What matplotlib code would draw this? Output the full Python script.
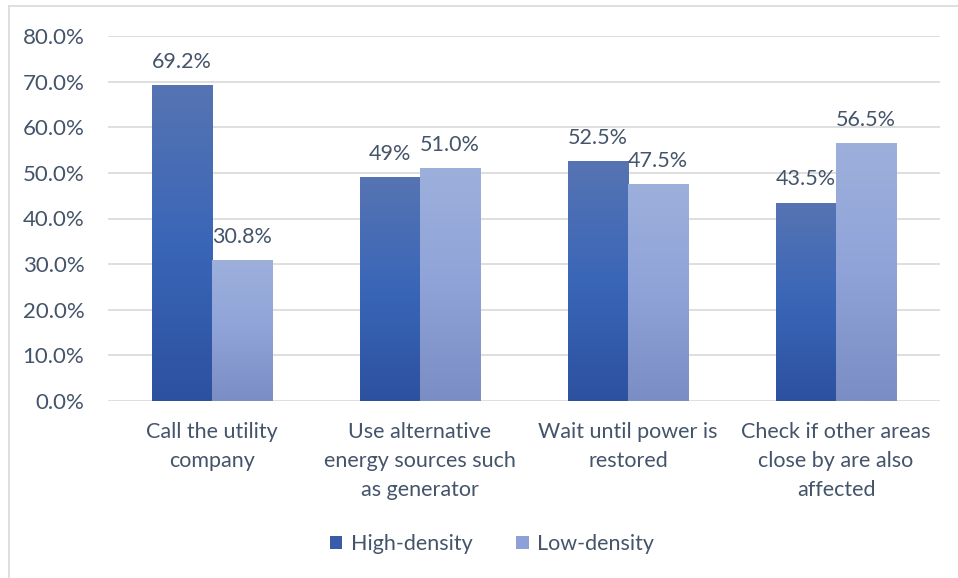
import numpy as np
import matplotlib
matplotlib.use("Agg")
import matplotlib.pyplot as plt
from matplotlib.patches import Rectangle
from matplotlib.lines import Line2D
from matplotlib.colors import LinearSegmentedColormap

categories = ["Call the utility\ncompany",
              "Use alternative\nenergy sources such\nas generator",
              "Wait until power is\nrestored",
              "Check if other areas\nclose by are also\naffected"]
high_density = [69.2, 49.0, 52.5, 43.5]
low_density = [30.8, 51.0, 47.5, 56.5]
high_labels = ["69.2%", "49%", "52.5%", "43.5%"]
low_labels = ["30.8%", "51.0%", "47.5%", "56.5%"]
yticks = [0, 10, 20, 30, 40, 50, 60, 70, 80]

text_color = "#44546A"
plt.rcParams["font.family"] = ["Lato", "DejaVu Sans"]

fig = plt.figure(figsize=(9.58, 5.78), dpi=100)
ax = fig.add_axes([108 / 958, 1 - 401 / 578, 832 / 958, 365 / 578])

# chart frame (top and left edges)
fig.lines.append(Line2D([9 / 958, 1.0], [1 - 6 / 578, 1 - 6 / 578],
                        transform=fig.transFigure, color="#D9D9D9", linewidth=1.2))
fig.lines.append(Line2D([9 / 958, 9 / 958], [0.0, 1 - 6 / 578],
                        transform=fig.transFigure, color="#D9D9D9", linewidth=1.2))

high_cmap = LinearSegmentedColormap.from_list("hi", ["#2C519F", "#3A66B8", "#5674B2"])
low_cmap = LinearSegmentedColormap.from_list("lo", ["#7A8DC4", "#8FA3D8", "#9DB0DC"])

x = np.arange(len(categories))
w = 0.29
grad = np.linspace(0, 1, 256).reshape(-1, 1)
fs = 15.5


def gradient_bar(xc, h, cmap):
    bar = ax.bar(xc, h, width=w, color="none", edgecolor="none", zorder=3)[0]
    im = ax.imshow(grad, cmap=cmap, aspect="auto", origin="lower",
                   extent=[xc - w / 2, xc + w / 2, 0, h], zorder=3)
    im.set_clip_path(bar)
    return bar


for i in range(len(categories)):
    gradient_bar(x[i] - w / 2, high_density[i], high_cmap)
    gradient_bar(x[i] + w / 2, low_density[i], low_cmap)
    ax.text(x[i] - w / 2, high_density[i] + 3.0, high_labels[i], ha="center",
            va="bottom", fontsize=fs, color=text_color)
    ax.text(x[i] + w / 2, low_density[i] + 3.0, low_labels[i], ha="center",
            va="bottom", fontsize=fs, color=text_color)

ax.set_xlim(-0.5, len(categories) - 0.5)
ax.set_ylim(0, 80)
ax.set_yticks(yticks)
ax.set_yticklabels([f"{v:.1f}%" for v in yticks], fontsize=16, color=text_color)
ax.set_xticks(x)
ax.set_xticklabels(categories, fontsize=fs, color=text_color, linespacing=1.58, va="top")
ax.tick_params(axis="both", length=0)
ax.tick_params(axis="y", pad=17)
ax.tick_params(axis="x", pad=15)
ax.grid(axis="y", color="#D9D9D9", linewidth=1.2, zorder=0)
for s in ax.spines.values():
    s.set_visible(False)
ax.set_axisbelow(True)

handles = [Rectangle((0, 0), 1, 1, facecolor="#3A5CA8"),
           Rectangle((0, 0), 1, 1, facecolor="#8EA1D6")]
fig.legend(handles, ["High-density", "Low-density"], loc="center",
           bbox_to_anchor=(492 / 958, 1 - 544 / 578), ncol=2, frameon=False,
           fontsize=fs, labelcolor=text_color, handlelength=0.6, handleheight=0.6,
           handletextpad=0.4, columnspacing=2.0)

fig.savefig("out.png", dpi=100)
